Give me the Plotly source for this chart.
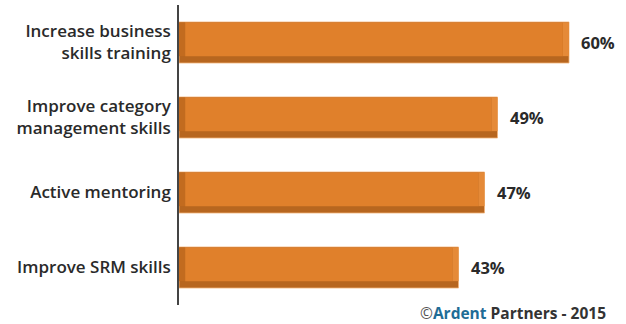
import plotly.graph_objects as go

categories = ["Increase business<br>skills training",
              "Improve category<br>management skills",
              "Active mentoring",
              "Improve SRM skills"]
values = [60, 49, 47, 43]
value_labels = ["60%", "49%", "47%", "43%"]

FACE = "#E0802B"
DARK = "#B7661F"
LEFT = "#C26B1F"
RIGHT = "#E58A38"
bevel = 0.95  # bevel thickness in data units (x)

fig = go.Figure()
# full bar (dark bottom shadow)
fig.add_trace(go.Bar(
    y=categories, x=values, orientation="h", width=0.547,
    marker=dict(color=DARK, line=dict(color="#F2B47A", width=0.8)),
    hoverinfo="skip"))
# left bevel
fig.add_trace(go.Bar(
    y=categories, x=[bevel] * len(values), base=[0] * len(values),
    orientation="h", width=0.45, offset=-0.268,
    marker=dict(color=LEFT, line=dict(width=0)), hoverinfo="skip"))
# right bevel
fig.add_trace(go.Bar(
    y=categories, x=[bevel] * len(values), base=[v - bevel for v in values],
    orientation="h", width=0.45, offset=-0.268,
    marker=dict(color=RIGHT, line=dict(width=0)), hoverinfo="skip"))
# face
fig.add_trace(go.Bar(
    y=categories, x=[v - 2 * bevel for v in values], base=[bevel] * len(values),
    orientation="h", width=0.45, offset=-0.268,
    marker=dict(color=FACE, line=dict(width=0)), hoverinfo="skip"))

annotations = [dict(x=v, y=c, xref="x", yref="y", text=t, showarrow=False,
                    xanchor="left", yanchor="middle", xshift=10,
                    font=dict(family="Open Sans", size=16.5, color="#2a2a2a", weight=700))
               for c, v, t in zip(categories, values, value_labels)]
annotations.append(dict(
    xref="paper", yref="paper", x=0.97, y=-0.027, xanchor="right", yanchor="middle",
    showarrow=False,
    text="<span style='color:#555;font-weight:400'>©</span><span style='color:#1F6C96'>Ardent</span> Partners - 2015",
    font=dict(family="Open Sans", size=15.5, color="#333", weight=700)))

fig.update_layout(
    width=626, height=324, barmode="overlay", showlegend=False,
    paper_bgcolor="white", plot_bgcolor="white",
    margin=dict(l=179, r=5, t=5, b=19),
    xaxis=dict(range=[0, 68], visible=False, fixedrange=True),
    yaxis=dict(autorange="reversed", showline=True, linecolor="#444", linewidth=1.5,
               ticks="", ticklabelstandoff=3, showgrid=False,
               tickfont=dict(family="Open Sans", size=17, color="#2a2a2a", weight=600)),
    annotations=annotations,
)

fig.write_html("out.html")
